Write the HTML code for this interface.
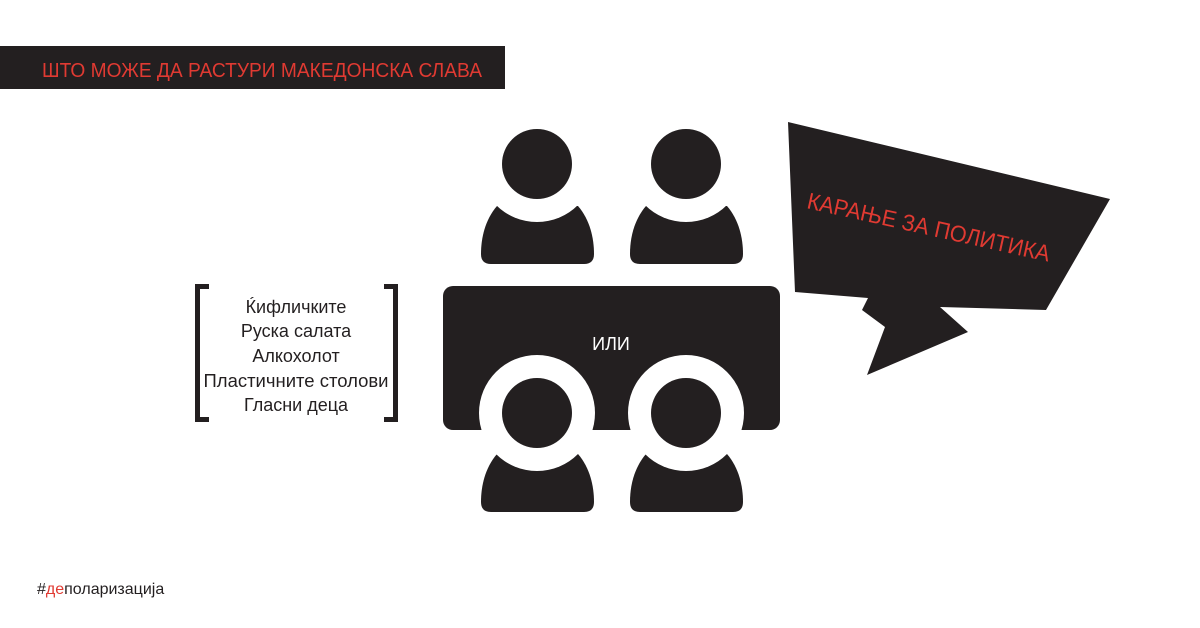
<!DOCTYPE html>
<html><head><meta charset="utf-8"><style>
body{margin:0;background:#fff;}
svg{display:block;}
text{font-family:"Liberation Sans",sans-serif;}
</style></head><body>
<svg width="1200" height="628" viewBox="0 0 1200 628" xmlns="http://www.w3.org/2000/svg">
<rect x="0" y="46" width="505" height="43" fill="#231f20"/>
<text x="42" y="77" font-size="20" fill="#e03a32" textLength="440" lengthAdjust="spacingAndGlyphs">ШТО МОЖЕ ДА РАСТУРИ МАКЕДОНСКА СЛАВА</text>

<path d="M195,284 H209 V289 H200 V417 H209 V422 H195 Z" fill="#231f20"/>
<path d="M398,284 H384 V289 H393 V417 H384 V422 H398 Z" fill="#231f20"/>
<g font-size="18" fill="#231f20" text-anchor="middle">
<text x="296" y="313">Ќифличките</text>
<text x="296" y="337">Руска салата</text>
<text x="296" y="362">Алкохолот</text>
<text x="296" y="387" textLength="185" lengthAdjust="spacingAndGlyphs">Пластичните столови</text>
<text x="296" y="411">Гласни деца</text>
</g>

<rect x="443" y="286" width="337" height="144" rx="10" fill="#231f20"/>
<text x="611" y="350" font-size="18" fill="#fff" text-anchor="middle">ИЛИ</text>

<defs>
<path id="body" d="M-40,-158 C-52,-144 -56,-126 -56,-110 Q-56,-100 -46,-100 L47,-100 Q57,-100 57,-110 C57,-126 53,-144 41,-158 Z"/>
</defs>
<g fill="#231f20">
<use href="#body" transform="translate(537,364)"/>
<use href="#body" transform="translate(686,364)"/>
<circle cx="537" cy="164" r="58" fill="#fff"/>
<circle cx="686" cy="164" r="58" fill="#fff"/>
<circle cx="537" cy="164" r="35"/>
<circle cx="686" cy="164" r="35"/>
<use href="#body" transform="translate(537,612)"/>
<use href="#body" transform="translate(686,612)"/>
<circle cx="537" cy="413" r="58" fill="#fff"/>
<circle cx="686" cy="413" r="58" fill="#fff"/>
<circle cx="537" cy="413" r="35"/>
<circle cx="686" cy="413" r="35"/>
</g>

<polygon points="788,122 1110,199 1046,310 940,307 968,332 867,375 885,327 862,310 868,298 795,292" fill="#231f20"/>
<text x="0" y="0" font-size="23" fill="#e03a32" transform="translate(806,208) rotate(12.5)" textLength="248" lengthAdjust="spacingAndGlyphs">КАРАЊЕ ЗА ПОЛИТИКА</text>

<text x="37" y="594" font-size="16" fill="#231f20">#<tspan fill="#e03a32">де</tspan>поларизација</text>
</svg>
</body></html>
